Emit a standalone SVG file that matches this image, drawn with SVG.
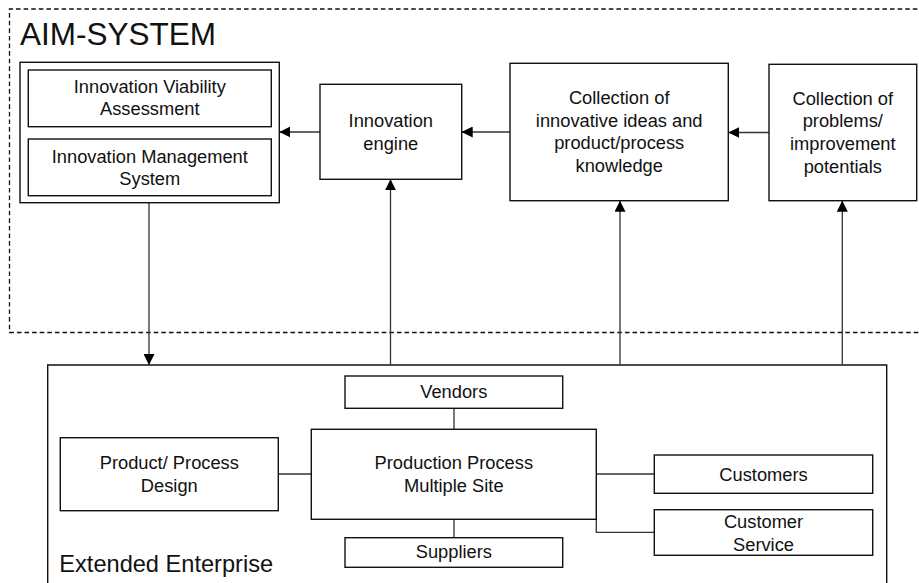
<svg xmlns="http://www.w3.org/2000/svg" width="919" height="583" viewBox="0 0 919 583">
  <style>
    .box { fill: #fff; stroke: #111; stroke-width: 1.4; }
    .frame { fill: none; stroke: #111; stroke-width: 1.3; stroke-dasharray: 4.6 3; }
    .wire { fill: none; stroke: #333; stroke-width: 1.3; }
    .t { font-family: "Liberation Sans", Arial, sans-serif; font-size: 18.3px; fill: #111; text-anchor: middle; }
    .title { font-family: "Liberation Sans", Arial, sans-serif; fill: #111; }
  </style>
  <defs>
    <marker id="arrow" markerUnits="userSpaceOnUse" markerWidth="11" markerHeight="11" viewBox="0 0 10 10" refX="10" refY="5" orient="auto">
      <path d="M0,0 L10,5 L0,10 Z" fill="#000"/>
    </marker>
  </defs>

  <!-- AIM-SYSTEM boundary -->
  <g id="aim-system">
    <path class="frame" d="M925,9 L9.5,9 L9.5,332.5 L925,332.5"/>
    <text class="title" x="20" y="45" font-size="31.5">AIM-SYSTEM</text>
  </g>

  <!-- Extended Enterprise boundary -->
  <g id="extended-enterprise">
    <path class="box" d="M47.7,600 L47.7,365 L886.7,365 L886.7,600"/>
    <text class="title" x="59.3" y="571.7" font-size="23.6">Extended Enterprise</text>
  </g>

  <g id="connectors">
    <!-- horizontal flows into the left -->
    <line class="wire" x1="320" y1="132" x2="279.3" y2="132" marker-end="url(#arrow)"/>
    <line class="wire" x1="510" y1="132" x2="461.7" y2="132" marker-end="url(#arrow)"/>
    <line class="wire" x1="769" y1="132.5" x2="728.3" y2="132.5" marker-end="url(#arrow)"/>
    <!-- management system down to the enterprise -->
    <line class="wire" x1="149" y1="202.7" x2="149" y2="365" marker-end="url(#arrow)"/>
    <!-- enterprise feedback up -->
    <line class="wire" x1="390.5" y1="365" x2="390.5" y2="179.3" marker-end="url(#arrow)"/>
    <line class="wire" x1="620" y1="365" x2="620" y2="200.7" marker-end="url(#arrow)"/>
    <line class="wire" x1="842.3" y1="365" x2="842.3" y2="200.7" marker-end="url(#arrow)"/>
    <!-- enterprise internal links -->
    <line class="wire" x1="454" y1="408.3" x2="454" y2="429.3"/>
    <line class="wire" x1="454" y1="519.3" x2="454" y2="537.7"/>
    <line class="wire" x1="278.3" y1="474" x2="311.3" y2="474"/>
    <line class="wire" x1="596.3" y1="474" x2="654.3" y2="474"/>
    <polyline class="wire" points="596.3,519.3 596.3,532.3 654.3,532.3"/>
  </g>

  <g id="innovation-management">
    <rect class="box" x="20" y="62.3" width="259.3" height="140.4"/>
  </g>
  <g id="viability-assessment">
    <rect class="box" x="28.3" y="70" width="243" height="56.7"/>
    <text class="t" x="149.8" y="93.3">Innovation Viability</text>
    <text class="t" x="149.8" y="115">Assessment</text>
  </g>
  <g id="management-system">
    <rect class="box" x="28.3" y="139" width="243" height="56.7"/>
    <text class="t" x="149.8" y="163.3">Innovation Management</text>
    <text class="t" x="149.8" y="185">System</text>
  </g>

  <g id="innovation-engine">
    <rect class="box" x="320" y="84.3" width="141.7" height="95"/>
    <text class="t" x="390.8" y="127.3">Innovation</text>
    <text class="t" x="390.8" y="149.5">engine</text>
  </g>

  <g id="idea-collection">
    <rect class="box" x="510" y="63.3" width="218.3" height="137.4"/>
    <text class="t" x="619.2" y="104">Collection of</text>
    <text class="t" x="619.2" y="126.7">innovative ideas and</text>
    <text class="t" x="619.2" y="149.2">product/process</text>
    <text class="t" x="619.2" y="171.7">knowledge</text>
  </g>

  <g id="problem-collection">
    <rect class="box" x="769" y="64.3" width="147.7" height="136.4"/>
    <text class="t" x="842.8" y="104.5">Collection of</text>
    <text class="t" x="842.8" y="127">problems/</text>
    <text class="t" x="842.8" y="150">improvement</text>
    <text class="t" x="842.8" y="172.7">potentials</text>
  </g>

  <g id="vendors">
    <rect class="box" x="345" y="376" width="217.7" height="32.3"/>
    <text class="t" x="453.8" y="398.3">Vendors</text>
  </g>

  <g id="production-process">
    <rect class="box" x="311.3" y="429.3" width="285" height="90"/>
    <text class="t" x="453.8" y="469.3">Production Process</text>
    <text class="t" x="453.8" y="492.3">Multiple Site</text>
  </g>

  <g id="suppliers">
    <rect class="box" x="345" y="537.7" width="217.7" height="29.6"/>
    <text class="t" x="453.8" y="558.3">Suppliers</text>
  </g>

  <g id="product-design">
    <rect class="box" x="60.3" y="437.7" width="218" height="73"/>
    <text class="t" x="169.3" y="469">Product/ Process</text>
    <text class="t" x="169.3" y="492.3">Design</text>
  </g>

  <g id="customers">
    <rect class="box" x="654.3" y="455" width="218.4" height="38.3"/>
    <text class="t" x="763.5" y="481">Customers</text>
  </g>

  <g id="customer-service">
    <rect class="box" x="654.3" y="509.7" width="218.4" height="45.6"/>
    <text class="t" x="763.5" y="528.3">Customer</text>
    <text class="t" x="763.5" y="550.7">Service</text>
  </g>
</svg>
